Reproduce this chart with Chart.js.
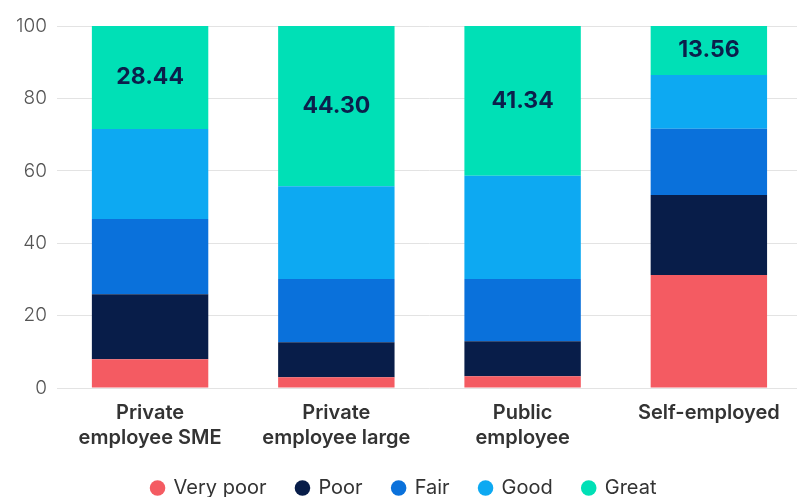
<!DOCTYPE html>
<html>
<head>
<meta charset="utf-8">
<script src="https://cdn.jsdelivr.net/npm/chart.js@4"></script>
<style>
  html, body { margin: 0; padding: 0; background: #fff; overflow: hidden; }
  #wrap { width: 802px; height: 497px; }
</style>
</head>
<body>
<div id="wrap"><canvas id="chart"></canvas></div>
<script>
const categories = [['Private', 'employee SME'], ['Private', 'employee large'], ['Public', 'employee'], 'Self-employed'];
const veryPoor = [7.95, 2.96, 3.24, 31.2];
const poor = [17.95, 9.7, 9.7, 22.1];
const fair = [20.8, 17.44, 17.16, 18.3];
const good = [24.86, 25.6, 28.56, 14.84];
const great = [28.44, 44.30, 41.34, 13.56];
const yTicks = [0, 20, 40, 60, 80, 100];

// draws value labels on the "Great" segments
const greatLabels = {
  id: 'greatLabels',
  afterDatasetsDraw(chart) {
    const ctx = chart.ctx;
    const idx = chart.data.datasets.length - 1;
    const meta = chart.getDatasetMeta(idx);
    ctx.save();
    ctx.font = 'bold 23px Inter';
    ctx.fillStyle = '#0b1f4b';
    ctx.textAlign = 'center';
    ctx.textBaseline = 'middle';
    meta.data.forEach((bar, i) => {
      const v = chart.data.datasets[idx].data[i];
      ctx.fillText(v.toFixed(2), bar.x, (bar.y + bar.base) / 2);
    });
    ctx.restore();
  }
};

new Chart(document.getElementById('chart'), {
  type: 'bar',
  data: {
    labels: categories,
    datasets: [
      { label: 'Very poor', data: veryPoor, backgroundColor: '#F45B62' },
      { label: 'Poor', data: poor, backgroundColor: '#081D49' },
      { label: 'Fair', data: fair, backgroundColor: '#0A71DB' },
      { label: 'Good', data: good, backgroundColor: '#0DA9F2' },
      { label: 'Great', data: great, backgroundColor: '#00E0B6' }
    ]
  },
  options: {
    responsive: true,
    maintainAspectRatio: false,
    animation: false,
    layout: { padding: { top: 26, right: 0, left: 6, bottom: -11 } },
    datasets: { bar: { barPercentage: 0.625, categoryPercentage: 1 } },
    scales: {
      x: {
        stacked: true,
        grid: { display: false, drawTicks: false },
        border: { display: false },
        ticks: { color: '#333', font: { family: 'Inter', size: 20, weight: '600', lineHeight: 1.25 }, padding: 12 },
        afterFit: scale => { scale.height -= 14; }
      },
      y: {
        stacked: true,
        min: 0,
        max: 100,
        afterBuildTicks: axis => { axis.ticks = yTicks.map(v => ({ value: v })); },
        grid: { color: '#e3e3e3', drawTicks: false },
        border: { display: false },
        ticks: { color: '#555', font: { family: 'Inter', size: 19, weight: '300' }, padding: 10 }
      }
    },
    plugins: {
      legend: {
        position: 'bottom',
        labels: {
          usePointStyle: true,
          pointStyle: 'circle',
          boxWidth: 12,
          boxHeight: 11,
          padding: 30,
          color: '#333',
          font: { family: 'Inter', size: 20 }
        }
      },
      tooltip: { enabled: false }
    }
  },
  plugins: [greatLabels]
});
</script>
</body>
</html>
